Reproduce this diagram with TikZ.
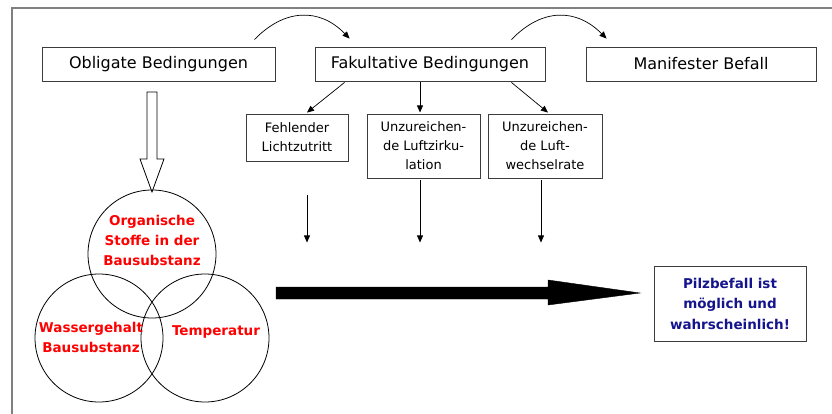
\documentclass[tikz,border=0pt]{standalone}
\usepackage{fontspec}
\setmainfont{DejaVu Sans}
\usetikzlibrary{arrows.meta,calc}
\definecolor{navytxt}{RGB}{20,20,140}
\definecolor{boxline}{RGB}{60,60,60}
\tikzset{
  bigbox/.style={draw=boxline,line width=0.9pt,minimum width=232pt,minimum height=34pt,inner sep=0pt,font=\fontsize{16}{18}\selectfont},
  smallbox/.style={draw=boxline,line width=0.9pt,inner sep=0pt,align=center,font=\fontsize{13}{19}\selectfont},
  redtxt/.style={text=red,align=center,font=\bfseries\fontsize{13.5}{20}\selectfont},
  arr/.style={-{Triangle[length=7pt,width=6pt]},line width=0.7pt},
  venn/.style={draw,line width=0.8pt}
}
\begin{document}
\begin{tikzpicture}[x=1pt,y=-1pt]
\useasboundingbox (0,0) rectangle (832,414);
% frame
\draw[gray,line width=1.5pt] (12,414) -- (12,8) -- (832,8);
% main boxes
\node[bigbox,minimum width=233pt] (obl) at (158.5,64) {Obligate Bedingungen};
\node[bigbox,minimum width=230pt] (fak) at (430,64) {Fakultative Bedingungen};
\node[bigbox,minimum width=230pt] (man) at (701,64) {Manifester Befall};
% small boxes
\node[smallbox,minimum width=102pt,minimum height=47pt] (fehl) at (297,137.5) {Fehlender\\Lichtzutritt};
\node[smallbox,minimum width=113pt,minimum height=64pt] (lz) at (423.5,146) {Unzureichen-\\de Luftzirku-\\lation};
\node[smallbox,minimum width=114pt,minimum height=64pt] (lw) at (545,146) {Unzureichen-\\de Luft-\\wechselrate};
% curved arrows
\coordinate (c1s) at ($(obl.north east)+(-21,-7)$);
\coordinate (c1e) at ($(fak.north west)+(35,-8)$);
\draw[arr] (c1s) .. controls (285,8) and (320,8) .. (c1e);
\coordinate (c2s) at ($(fak.north east)+(-34,-7)$);
\coordinate (c2e) at ($(man.north west)+(21,-8)$);
\draw[arr] (c2s) .. controls (542,8) and (576,8) .. (c2e);
% arrows to small boxes
\draw[arr] ($(fak.south west)+(30,1)$) -- ($(fehl.north)+(10,-1)$);
\draw[arr] (fak.south -| lz.north) ++(-3.5,1) -- ++(0,30);
\draw[arr] ($(fak.south east)+(-34,1)$) -- ($(lw.north)+(3,-1)$);
% arrows down from small boxes
\coordinate (d1) at ($(fehl.south)+(10,34)$);
\coordinate (d2) at ($(lz.south)+(-3.5,2)$);
\coordinate (d3) at ($(lw.south)+(-4,2)$);
\draw[arr] (d1) -- ++(0,47);
\draw[arr] (d2) -- ++(0,62);
\draw[arr] (d3) -- ++(0,62);
% hollow down arrow
\draw[line width=0.8pt,fill=white] (147,92) -- (157,92) -- (157,159) -- (164,159) -- (152,192) -- (140,159) -- (147,159) -- cycle;
% venn circles
\node[venn,circle,minimum size=128pt,inner sep=0pt] (org) at (152,254) {};
\node[venn,circle,minimum size=128pt,inner sep=0pt] (was) at (99,338) {};
\node[venn,circle,minimum size=128pt,inner sep=0pt] (tem) at (205,338) {};
\node[redtxt] (orgt) at (152,240) {Organische\\Stoffe in der\\Bausubstanz};
\node[redtxt] (wast) at (91,337) {Wassergehalt\\Bausubstanz};
\node[redtxt] (temt) at (216,332) {Temperatur};
% big arrow
\draw[fill=black] (276,287) -- (548,287) -- (548,280) -- (640,293) -- (548,305) -- (548,299) -- (276,299) -- cycle;
% result box
\node[draw=boxline,line width=0.9pt,minimum width=152pt,minimum height=75pt,inner sep=0pt,align=center,text=navytxt,font=\bfseries\fontsize{13.5}{20.5}\selectfont] (pilz) at (730,303.5) {Pilzbefall ist\\möglich und\\wahrscheinlich!};
\end{tikzpicture}
\end{document}
